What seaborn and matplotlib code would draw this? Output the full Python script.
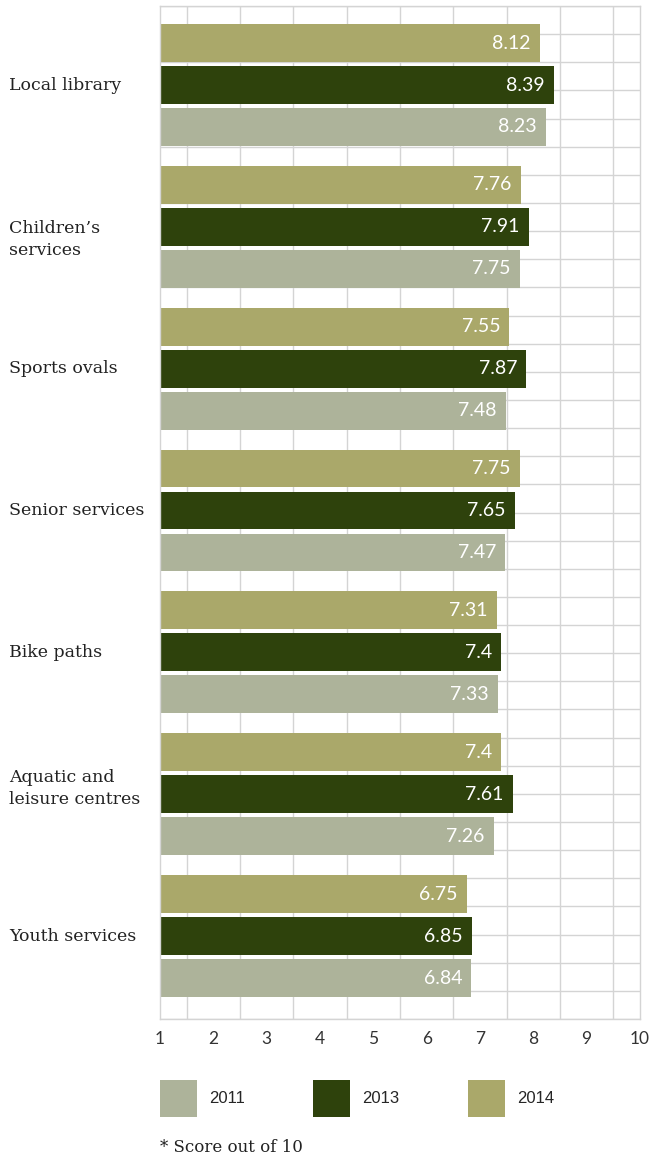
import matplotlib
matplotlib.use("Agg")
import matplotlib.pyplot as plt
import seaborn as sns
import numpy as np
import pandas as pd
from matplotlib.patches import Patch
from matplotlib.transforms import blended_transform_factory

# data
services = ["Local library", "Children’s\nservices", "Sports ovals", "Senior services",
            "Bike paths", "Aquatic and\nleisure centres", "Youth services"]
score_2014 = [8.12, 7.76, 7.55, 7.75, 7.31, 7.4, 6.75]
score_2013 = [8.39, 7.91, 7.87, 7.65, 7.4, 7.61, 6.85]
score_2011 = [8.23, 7.75, 7.48, 7.47, 7.33, 7.26, 6.84]
years = ["2014", "2013", "2011"]
legend_years = ["2011", "2013", "2014"]
x_ticks = list(range(1, 11))

colors = {"2014": "#aaa86a", "2013": "#2e420c", "2011": "#adb39a"}
grid_col = "#d4d4d4"

df = pd.DataFrame({
    "service": services * 3,
    "year": ["2014"] * 7 + ["2013"] * 7 + ["2011"] * 7,
    "score": score_2014 + score_2013 + score_2011,
})

sns.set_style("white")
fig = plt.figure(figsize=(6.56, 11.62), dpi=100)
ax = fig.add_axes([160 / 656, 1 - 1019 / 1162, 480 / 656, 1013 / 1162])

sns.barplot(data=df, y="service", x="score", hue="year", hue_order=years,
            palette=colors, orient="h", width=0.888, gap=0.1, saturation=1,
            linewidth=0, legend=False, ax=ax, zorder=2)

ax.set_xlim(1, 10)
ylo, yhi = -0.557, 6.585
ax.set_ylim(yhi, ylo)

# grid
ax.set_xticks(x_ticks)
ax.set_xticks(np.arange(1, 10.01, 0.5), minor=True)
ax.set_yticks(np.linspace(ylo, yhi, 37), minor=True)
ax.set_yticks([])
ax.grid(True, which="minor", color=grid_col, lw=1)
ax.grid(False, which="major")
ax.set_axisbelow(True)
for s in ax.spines.values():
    s.set_color(grid_col)
    s.set_linewidth(1)

ax.tick_params(axis="x", which="both", length=0, pad=9, labelsize=12.5, labelcolor="#333333")
ax.tick_params(axis="y", which="both", length=0)
for lab in ax.get_xticklabels():
    lab.set_fontfamily("Lato")
ax.set_xlabel("")
ax.set_ylabel("")

# value labels inside bars
for cont in ax.containers:
    for bar in cont:
        v = bar.get_width()
        ax.annotate(f"{v:g}", (v, bar.get_y() + bar.get_height() / 2),
                    xytext=(-6.5, 0), textcoords="offset points",
                    ha="right", va="center", color="white",
                    fontsize=14, family="Lato", zorder=3)

# category labels
trans = blended_transform_factory(fig.transFigure, ax.transData)
label_shift = [0, 0.09, 0, 0, 0, -0.04, 0]
for i, name in enumerate(services):
    ax.text(9 / 656, i + label_shift[i], name, transform=trans, ha="left", va="center",
            fontsize=12.5, family="DejaVu Serif", color="#222222",
            linespacing=1.4)

# legend (square swatches)
handles = [Patch(facecolor=colors[y], edgecolor="none") for y in legend_years]
fig.legend(handles, legend_years, loc="upper left",
           bbox_to_anchor=(160 / 656, 1 - 1080 / 1162), ncol=3, frameon=False,
           handlelength=2.2, handleheight=3.04, handletextpad=0.75,
           columnspacing=4.1, borderpad=0, borderaxespad=0,
           prop={"family": "Liberation Sans", "size": 12})

fig.text(160 / 656, 1 - 1148 / 1162, "* Score out of 10", ha="left", va="center",
         fontsize=12, family="DejaVu Serif", color="#222222")

fig.savefig("out.png", dpi=100)
